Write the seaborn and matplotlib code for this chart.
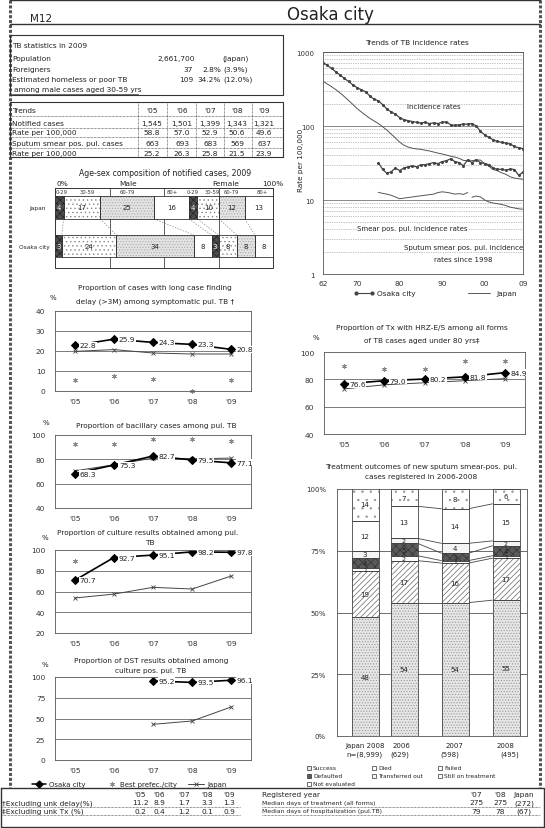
import numpy as np
import pandas as pd
import matplotlib
matplotlib.use("Agg")
import matplotlib.pyplot as plt
import seaborn as sns

# ---------------- data ----------------
trend_years = list(range(1962, 2010))
osaka_incidence = [720, 660, 600, 540, 490, 440, 400, 360, 330, 310, 290, 255, 230, 220, 195, 170,
                   155, 145, 130, 122, 118, 115, 112, 110, 112, 108, 110, 108, 112, 114, 104, 102,
                   104, 106, 106, 108, 100, 85, 76, 70, 65, 62, 60, 58.8, 57.0, 52.9, 50.6, 49.6]
japan_incidence = [403, 370, 340, 311, 280, 250, 222, 196, 172, 155, 140, 127, 117, 108, 98, 88,
                   78, 69, 60.7, 55, 52, 50, 49, 48.4, 47, 46, 44.5, 43, 41.9, 40.5, 39, 38,
                   36.5, 34.3, 34, 33.9, 34.8, 34.6, 31.0, 28.5, 25.8, 24.8, 23.3, 22.2, 20.6, 19.8, 19.4, 19.0]
smear_years = list(range(1975, 2010))
osaka_smear = [32, 26, 23, 24, 27, 25, 27, 28, 29, 28, 30, 30, 31, 32, 31, 33, 34, 36, 33, 32,
               29, 35, 32, 35, 32, 31, 30, 27, 26, 26, 25.2, 26.3, 25.8, 21.5, 23.9]
japan_smear_years_a = list(range(1975, 1997))
japan_smear_a = [12.7, 12.3, 12.0, 11.6, 11.0, 10.4, 10.6, 10.8, 11.0, 11.2, 11.4, 11.6, 11.8, 12.0,
                 12.6, 12.9, 12.7, 12.4, 12.0, 12.2, 11.9, 12.6]
japan_smear_years_b = list(range(1997, 2010))
japan_smear_b = [10.9, 11.3, 11.0, 10.0, 9.4, 9.1, 8.9, 8.7, 8.4, 8.0, 7.8, 7.6, 7.5]

year_labels = ["'05", "'06", "'07", "'08", "'09"]
nan = np.nan
delay_osaka = [22.8, 25.9, 24.3, 23.3, 20.8]
delay_best = [5.5, 7.7, 6.0, 0.0, 5.5]
delay_japan = [19.8, 20.7, 19.0, 18.5, 18.5]
bac_osaka = [68.3, 75.3, 82.7, 79.5, 77.1]
bac_best = [92.5, 92.5, 96.5, 96.5, 95.0]
bac_japan = [70.5, 75.5, 81.0, 80.5, 81.0]
cul_osaka = [70.7, 92.7, 95.1, 98.2, 97.8]
cul_best = [89.0, nan, nan, nan, nan]
cul_japan = [53.7, 57.5, 64.0, 62.4, 75.0]
dst_osaka = [nan, nan, 95.2, 93.5, 96.1]
dst_best = [nan, nan, nan, nan, nan]
dst_japan = [nan, nan, 43.0, 47.0, 64.0]
hrz_osaka = [76.6, 79.0, 80.2, 81.8, 84.9]
hrz_best = [90.0, 87.5, 87.5, 93.5, 93.5]
hrz_japan = [73.0, 76.0, 77.5, 79.0, 80.5]

trend_rows = ["Notified cases", "Rate per 100,000", "Sputum smear pos. pul. cases", "Rate per 100,000"]
notified = ["1,545", "1,501", "1,399", "1,343", "1,321"]
notified_rate = ["58.8", "57.0", "52.9", "50.6", "49.6"]
smear_cases = ["663", "693", "683", "569", "637"]
smear_rate = ["25.2", "26.3", "25.8", "21.5", "23.9"]

age_groups = ["0-29", "30-59", "60-79", "80+"]
japan_male = [4, 17, 25, 16]
japan_female = [4, 10, 12, 13]
osaka_male = [3, 24, 34, 8]
osaka_female = [3, 8, 8, 8]

tx_groups = ["Japan 2008", "2006", "2007", "2008"]
tx_n = ["n=(8,999)", "(629)", "(598)", "(495)"]
outcome_names = ["Success", "Died", "Failed", "Defaulted", "Transferred out", "Still on treatment", "Not evaluated"]
tx_success = [48, 54, 54, 55]
tx_died = [19, 17, 16, 17]
tx_failed = [1, 2, 1, 1]
tx_defaulted = [4, 5, 3, 4]
tx_transferred = [3, 2, 4, 2]
tx_still = [12, 13, 14, 15]
tx_noteval = [14, 7, 8, 6]

excl_delay = ["11.2", "8.9", "1.7", "3.3", "1.3"]
excl_tx = ["0.2", "0.4", "1.2", "0.1", "0.9"]
reg_years = ["'07", "'08", "Japan"]
median_tx = ["275", "275", "(272)"]
median_hosp = ["79", "78", "(67)"]

# ---------------- figure ----------------
sns.set_theme(style="white")
plt.rcParams['font.family'] = ['DejaVu Sans']
plt.rcParams['hatch.linewidth'] = 0.5

W, H = 545, 829
fig = plt.figure(figsize=(W / 100, H / 100), dpi=100)
bg = fig.add_axes([0, 0, 1, 1])
bg.set_xlim(0, W)
bg.set_ylim(H, 0)
bg.axis('off')


def axpx(x0, y0, x1, y1):
    a = fig.add_axes([x0 / W, 1 - y1 / H, (x1 - x0) / W, (y1 - y0) / H])
    a.set_facecolor('none')
    return a


def T(x, y, s, size=5.3, ha='left', **kw):
    bg.text(x, y, s, fontsize=size, ha=ha, va='center', color='#222', **kw)


def L(xs, ys, **kw):
    kw.setdefault('color', '#333')
    kw.setdefault('lw', 0.6)
    bg.plot(xs, ys, **kw)


DOT = (0, (1, 1))

# page frame
L([10, 10], [1, 789], lw=2.2, color='#555', ls=(0, (1, 0.6)))
L([540, 540], [1, 789], lw=2.2, color='#555', ls=(0, (1, 0.6)))
L([10, 540], [1, 1], lw=1.0)
L([10, 540], [25, 25], lw=1.0)
T(30, 19, "M12", size=7.5)
T(330, 15, "Osaka city", size=12, ha='center')

# TB statistics box
L([10, 283, 283, 10, 10], [36, 36, 96, 96, 36], lw=0.8)
T(12, 46, "TB statistics in 2009")
T(12, 59, "Population")
T(195, 59, "2,661,700", ha='right')
T(236, 59, "(Japan)", ha='center')
T(12, 70, "Foreigners")
T(193, 70, "37", ha='right')
T(221, 70, "2.8%", ha='right')
T(223, 70, "(3.9%)")
T(12, 80, "Estimated homeless or poor TB")
T(193, 80, "109", ha='right')
T(221, 80, "34.2%", ha='right')
T(223, 80, "(12.0%)")
T(14, 90, "among male cases aged 30-59 yrs")
L([12, 138], [94.5, 94.5], lw=0.5)

# trends table
L([10, 283, 283, 10, 10], [103, 103, 158, 158, 103], lw=0.8)
col_x = [152, 182, 210, 237, 264]
row_y = [111, 123.5, 133, 144, 154]
T(12, row_y[0], "Trends")
for cx, lab in zip(col_x, year_labels):
    T(cx, row_y[0], lab, ha='center')
for r, (name, vals) in enumerate(zip(trend_rows, [notified, notified_rate, smear_cases, smear_rate])):
    T(12, row_y[r + 1], name)
    for cx, v in zip(col_x, vals):
        T(cx, row_y[r + 1], v, ha='center')
for yy in [117, 128.5, 138, 149]:
    L([10, 283], [yy, yy], lw=0.5, ls=DOT)
for xx in [138, 167, 196, 224, 252]:
    L([xx, xx], [103, 158], lw=0.5, ls=DOT)

# ---------------- age-sex composition ----------------
T(165, 173, "Age-sex composition of notified cases, 2009", size=5.6, ha='center')
T(62, 184, "0%", ha='center')
T(128, 184, "Male", ha='center')
T(226, 184, "Female", ha='center')
T(273, 184, "100%", ha='center')
ag = axpx(55, 189, 273, 269)
ag.set_xlim(0, 100)
ag.set_ylim(80, 0)
ag.axis('off')
age_style = [('#4d4d4d', 'xxxxx', '#222'), ('white', '....', '#888'),
             ('#e3e3e3', '......', '#aaa'), ('white', '', '#888')]
for xx in [25, 50, 75]:
    ag.plot([xx, xx], [0, 80], color='#444', lw=0.6, zorder=0)
ag.plot([0, 100, 100, 0, 0], [0, 0, 80, 80, 0], color='#333', lw=0.7, clip_on=False)
ag.plot([0, 100], [8, 8], color='#333', lw=0.6)
hdr_pos = [3, 15, 33, 54, 63, 72, 81, 95]
for p, lab in zip(hdr_pos, age_groups * 2):
    ag.text(p, 4, lab, fontsize=3.8, ha='center', va='center', color='#333')


def age_row(vals, yc, h):
    tot = float(sum(vals))
    cum = 0.0
    edges = [0.0]
    for i, v in enumerate(vals):
        w = v / tot * 100
        fc, hatch, hc = age_style[i % 4]
        ag.barh(yc, w, left=cum, height=h, color=fc, edgecolor=hc, hatch=hatch, linewidth=0, zorder=2)
        ag.barh(yc, w, left=cum, height=h, fill=False, edgecolor='#333', linewidth=0.6, zorder=3)
        ag.text(cum + w / 2, yc, str(v), fontsize=5, ha='center', va='center', zorder=4,
                color='white' if i % 4 == 0 else '#222')
        cum += w
        edges.append(cum)
    return edges


ej = age_row(japan_male + japan_female, 19.5, 23)
eo = age_row(osaka_male + osaka_female, 58, 22)
for a, b in zip(ej[1:-1], eo[1:-1]):
    ag.plot([a, b], [31, 47], color='#888', lw=0.5, ls=(0, (2, 2)), zorder=1)
T(46, 208, "Japan", size=4.2, ha='right')
T(50, 247, "Osaka city", size=4.2, ha='right')


# ---------------- small line charts ----------------
def small_chart(box, ylim, yticks, grid, osaka, best, japan):
    ax = axpx(*box)
    ax.set_xlim(-0.5, 4.5)
    ax.set_ylim(*ylim)
    for g in grid:
        ax.axhline(g, color='#666', lw=0.6, zorder=0)
    df = pd.DataFrame({'x': np.arange(5), 'osaka': osaka, 'best': best, 'japan': japan})
    sns.lineplot(data=df, x='x', y='japan', ax=ax, color='#444', lw=0.7, marker='x',
                 markersize=2.5, markeredgewidth=0.6, markeredgecolor='#444')
    ax.plot(df['x'], df['best'], ls='none', marker=(6, 2, 0), ms=3.5, mew=0.5, color='#888', clip_on=False)
    sns.lineplot(data=df, x='x', y='osaka', ax=ax, color='black', lw=1.2, marker='D',
                 markersize=4.3, markeredgecolor='black')
    for i, v in enumerate(osaka):
        if not np.isnan(v):
            ax.text(i + 0.13, v, f"{v:.1f}", fontsize=5.4, ha='left', va='center', color='#222',
                    bbox=dict(fc='white', ec='none', pad=0.4), clip_on=False, zorder=5)
    ax.set_yticks(yticks)
    ax.set_yticklabels([str(t) for t in yticks], fontsize=5.4, color='#333')
    ax.set_xticks(range(5))
    ax.set_xticklabels(year_labels, fontsize=5.4, color='#333')
    ax.set_xticks([0.5, 1.5, 2.5, 3.5], minor=True)
    ax.tick_params(axis='x', which='minor', length=2, width=0.5, direction='in', color='#444')
    ax.tick_params(axis='x', which='major', length=0, pad=5)
    ax.tick_params(axis='y', length=0, pad=7)
    ax.set_xlabel('')
    ax.set_ylabel('')
    for s in ax.spines.values():
        s.set_color('#555')
        s.set_linewidth(0.6)
    return ax


T(155, 288, "Proportion of cases with long case finding", ha='center')
T(155, 302, "delay (>3M) among symptomatic pul. TB \u2020", ha='center')
T(50, 298, "%", size=5)
small_chart((55, 312, 251, 392), (0, 40), [0, 10, 20, 30, 40], [10, 20, 30], delay_osaka, delay_best, delay_japan)

T(156, 426, "Proportion of bacillary cases among pul. TB", ha='center')
T(43, 423, "%", size=5)
small_chart((55, 436, 251, 509), (40, 100), [40, 60, 80, 100], [60, 80], bac_osaka, bac_best, bac_japan)

T(148, 533, "Proportion of culture results obtained among pul.", ha='center')
T(150, 543, "TB", ha='center')
T(42, 538, "%", size=5)
small_chart((55, 551, 251, 634), (20, 100), [20, 40, 60, 80, 100], [40, 60, 80], cul_osaka, cul_best, cul_japan)

T(151, 661, "Proportion of DST results obtained among", ha='center')
T(151, 671, "culture pos. pul. TB", ha='center')
T(42, 665, "%", size=5)
small_chart((55, 678, 251, 761), (0, 100), [0, 25, 50, 75, 100], [25, 50, 75], dst_osaka, dst_best, dst_japan)

# legend of left charts
bg.plot([32, 46], [785, 785], color='black', lw=1.1)
bg.plot([39], [785], marker='D', ms=3.5, color='black')
T(49, 785, "Osaka city", size=5)
bg.plot([112], [785], marker=(6, 2, 0), ms=3.5, mew=0.5, color='#888')
T(120, 785, "Best prefec./city", size=5)
bg.plot([188, 204], [785, 785], color='#444', lw=0.7)
bg.plot([196], [785], marker='x', ms=2.5, mew=0.6, color='#444')
T(207, 785, "Japan", size=5)

# HRZ chart (right)
T(422, 328, "Proportion of Tx with HRZ-E/S among all forms", ha='center')
T(422, 341, "of TB cases aged under 80 yrs\u2021", ha='center')
T(313, 338, "%", size=5)
small_chart((324, 353, 525, 435), (40, 100), [40, 60, 80, 100], [60, 80], hrz_osaka, hrz_best, hrz_japan)

# ---------------- trends chart ----------------
T(417, 43, "Trends of TB incidence rates", ha='center')
at = axpx(323, 53, 523, 275)
at.set_yscale('log')
at.set_ylim(1, 1000)
at.set_xlim(1962, 2009)
at.grid(True, which='major', axis='y', color='#777', lw=0.6)
at.grid(True, which='minor', axis='y', color='#888', lw=0.5, ls=(0, (1, 1.5)))
inc = pd.DataFrame({'year': trend_years, 'osaka': osaka_incidence, 'japan': japan_incidence})
sm = pd.DataFrame({'year': smear_years, 'osaka': osaka_smear})
ja = pd.DataFrame({'year': japan_smear_years_a, 'v': japan_smear_a})
jb = pd.DataFrame({'year': japan_smear_years_b, 'v': japan_smear_b})
sns.lineplot(data=inc, x='year', y='japan', ax=at, color='#555', lw=0.7)
sns.lineplot(data=ja, x='year', y='v', ax=at, color='#555', lw=0.7)
sns.lineplot(data=jb, x='year', y='v', ax=at, color='#555', lw=0.7)
sns.lineplot(data=inc, x='year', y='osaka', ax=at, color='#444', lw=0.9, marker='o', markersize=2.2,
             markeredgewidth=0)
sns.lineplot(data=sm, x='year', y='osaka', ax=at, color='#444', lw=0.9, marker='o', markersize=2.2,
             markeredgewidth=0)
at.set_xticks([1962, 1970, 1980, 1990, 2000, 2009])
at.set_xticklabels(['62', '70', '80', '90', '00', '09'], fontsize=5.4, color='#333')
at.set_yticks([1, 10, 100, 1000])
at.set_yticklabels(['1', '10', '100', '1000'], fontsize=5, color='#333')
at.tick_params(axis='y', which='both', length=0, pad=6)
at.tick_params(axis='x', length=2, width=0.5, direction='in', pad=4)
at.set_xlabel('')
at.set_ylabel('')
for s in at.spines.values():
    s.set_color('#555')
    s.set_linewidth(0.6)
at.text(1988, 185, "Incidence rates", fontsize=5, ha='center', va='center', color='#222')
at.text(1983, 4.15, "Smear pos. pul. incidence rates", fontsize=5, ha='center', va='center', color='#222',
        bbox=dict(fc='white', ec='none', pad=0.2))
at.text(1995, 2.3, "Sputum smear pos. pul. incidence", fontsize=5, ha='center', va='center', color='#222',
        bbox=dict(fc='white', ec='none', pad=0.2))
at.text(1995, 1.6, "rates since 1998", fontsize=5, ha='center', va='center', color='#222')
T(301, 160, "Rate per 100,000", size=5.2, ha='center', rotation=90)
bg.plot([356, 372], [294, 294], color='#444', lw=0.8, marker='o', ms=2, markevery=[0, 1])
T(377, 294, "Osaka city")
bg.plot([468, 490], [294, 294], color='#555', lw=0.7)
T(496, 294, "Japan")

# ---------------- treatment outcomes ----------------
T(421, 467, "Treatment outcomes of new sputum smear-pos. pul.", ha='center')
T(421, 477, "cases registered in 2006-2008", ha='center')
ab = axpx(337, 490, 527, 737)
ab.set_xlim(337, 527)
ab.set_ylim(0, 100)
bar_x = [365, 404, 455, 506]
bar_w = 27
for g in [25, 50, 75]:
    ab.axhline(g, color='#555', lw=0.6, zorder=0)
tx_series = [tx_success, tx_died, tx_failed, tx_defaulted, tx_transferred, tx_still, tx_noteval]
tx_style = [('#e6e6e6', '......', '#9a9a9a'), ('white', '//////', '#666'), ('white', '', '#666'),
            ('#5a5a5a', 'xxxx', '#333'), ('#f4f4f4', '', '#666'), ('white', '', '#666'),
            ('white', '..', '#999')]
bottoms = np.zeros(4)
tops_list = []
for series, (fc, hatch, hc) in zip(tx_series, tx_style):
    vals = np.array(series, dtype=float)
    ab.bar(bar_x, vals, width=bar_w, bottom=bottoms, color=fc, edgecolor=hc, hatch=hatch, linewidth=0, zorder=2)
    ab.bar(bar_x, vals, width=bar_w, bottom=bottoms, fill=False, edgecolor='#444', linewidth=0.6, zorder=3)
    for xx, b, v in zip(bar_x, bottoms, vals):
        ab.text(xx, min(b + v / 2, 99), f"{v:.0f}", fontsize=5 if v >= 3 else 4.5, ha='center', va='center',
                color='#222', zorder=4)
    bottoms = bottoms + vals
    tops_list.append(bottoms.copy())
for tops in tops_list[:-1]:
    for i in [1, 2]:
        ab.plot([bar_x[i] + bar_w / 2, bar_x[i + 1] - bar_w / 2], [tops[i], tops[i + 1]],
                color='#444', lw=0.6, zorder=1)
ab.set_xticks([])
ab.set_yticks([0, 25, 50, 75, 100])
ab.set_yticklabels(['0%', '25%', '50%', '75%', '100%'], fontsize=5, color='#333')
ab.tick_params(axis='y', length=0, pad=8)
for s in ab.spines.values():
    s.set_color('#555')
    s.set_linewidth(0.6)
lab_x = [365, 401, 454, 505]
n_x = [364, 400, 450, 510]
for gx, nx, g, n in zip(lab_x, n_x, tx_groups, tx_n):
    T(gx, 746, g, size=5, ha='center')
    T(nx, 754.5, n, size=5, ha='center')

leg_pos = [(309, 769), (374, 769), (440, 769), (309, 777), (374, 777), (440, 777), (309, 785)]
for (lx, ly), name, (fc, hatch, hc) in zip(leg_pos, outcome_names, tx_style):
    bg.add_patch(matplotlib.patches.Rectangle((lx - 2, ly - 2), 4, 4, facecolor=fc, edgecolor='#333',
                                              hatch=None, lw=0.5))
    T(lx + 4, ly, name, size=4.2)

# ---------------- bottom tables ----------------
L([1, 544, 544, 1, 1], [789, 789, 828, 828, 789], lw=1.0)
bx = [140, 159, 184, 207, 229]
for x, lab in zip(bx, year_labels):
    T(x, 795, lab, ha='center')
T(2, 803.5, "\u2020Excluding unk delay(%)")
T(2, 812, "\u2021Excluding unk Tx (%)")
for x, v in zip(bx, excl_delay):
    T(x, 803.5, v, ha='center')
for x, v in zip(bx, excl_tx):
    T(x, 812, v, ha='center')
L([2, 240], [807.5, 807.5], lw=0.5, ls=DOT)
L([2, 240], [816, 816], lw=0.5, ls=DOT)
rx = [476, 500, 524]
T(262, 795, "Registered year")
T(262, 803.5, "Median days of treatment (all forms)", size=4.4)
T(262, 812, "Median days of hospitalization (pul.TB)", size=4.4)
for x, a, b, c in zip(rx, reg_years, median_tx, median_hosp):
    T(x, 795, a, ha='center')
    T(x, 803.5, b, ha='center')
    T(x, 812, c, ha='center')
L([262, 540], [807.5, 807.5], lw=0.5, ls=DOT)
L([262, 540], [816, 816], lw=0.5, ls=DOT)

fig.savefig("out.png", dpi=100)
